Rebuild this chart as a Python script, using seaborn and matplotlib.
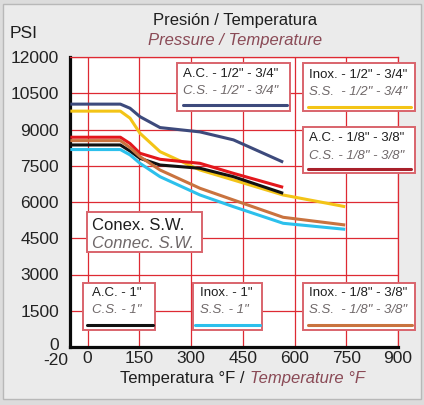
import pandas as pd
import matplotlib.pyplot as plt
import seaborn as sns
from matplotlib.patches import Rectangle
from matplotlib.lines import Line2D
from matplotlib.transforms import ScaledTranslation

# temperatures (°F)
temp_short = [-50, 95, 123, 152, 210, 326, 423, 567]
temp_long = [-50, 95, 123, 152, 210, 326, 423, 567, 747]

# pressure (PSI) per series
cs_12_34 = [10050, 10050, 9880, 9530, 9080, 8900, 8570, 7650]
ss_12_34 = [9760, 9760, 9470, 8843, 8083, 7324, 6910, 6290, 5806]
cs_18_38 = [8680, 8680, 8420, 8015, 7767, 7600, 7186, 6608]
cs_1 = [8360, 8360, 8110, 7807, 7531, 7395, 7047, 6360]
ss_18_38 = [8540, 8540, 8250, 7875, 7324, 6567, 6083, 5367, 5048]
ss_1 = [8170, 8170, 7950, 7600, 7047, 6290, 5806, 5119, 4870]

x_ticks = [0, 150, 300, 450, 600, 750, 900]
y_ticks = [0, 1500, 3000, 4500, 6000, 7500, 9000, 10500, 12000]

colors = {
    'cs_12_34': '#3d4a7c',
    'ss_12_34': '#f3c417',
    'cs_18_38': '#e3171c',
    'cs_1': '#111111',
    'ss_18_38': '#c9733f',
    'ss_1': '#2cc0ec',
}

W, H = 424, 405


def px(x, y):
    return x / W, 1 - y / H


def build_frame():
    parts = []
    for name, xs, ys in [('cs_12_34', temp_short, cs_12_34),
                         ('ss_12_34', temp_long, ss_12_34),
                         ('cs_18_38', temp_short, cs_18_38),
                         ('cs_1', temp_short, cs_1),
                         ('ss_18_38', temp_long, ss_18_38),
                         ('ss_1', temp_long, ss_1)]:
        parts.append(pd.DataFrame({'temp': xs, 'psi': ys, 'serie': name}))
    return pd.concat(parts, ignore_index=True)


def draw_box(fig, x0, y0, x1, y1, line1, line2, color=None, size=9.5, tx=None, ty=(None, None), sample=None):
    fx, fy = px(x0, y1)
    fig.patches.append(Rectangle((fx, fy), (x1 - x0) / W, (y1 - y0) / H, transform=fig.transFigure,
                                 facecolor='white', edgecolor='#d9646c', lw=1.4, zorder=5))
    fig.text(*px(tx, ty[0]), line1, fontsize=size, color='#1e1e1e', va='center', ha='left', zorder=6)
    fig.text(*px(tx, ty[1]), line2, fontsize=size, color='#6f6869', style='italic', va='center', ha='left', zorder=6)
    if color is not None:
        sx0, sx1, sy = sample
        fig.lines.append(Line2D([sx0 / W, sx1 / W], [1 - sy / H, 1 - sy / H], transform=fig.transFigure,
                                color=color, lw=2.2, zorder=6))


def main():
    sns.set_style('white')
    plt.rcParams['font.family'] = ['Liberation Sans', 'DejaVu Sans']

    fig = plt.figure(figsize=(W / 100, H / 100), dpi=100, facecolor='#dcdcdc')
    fig.patches.append(Rectangle(px(3, 399), 418 / W, 395 / H, transform=fig.transFigure,
                                 facecolor='#ebebeb', edgecolor='#b8b8b8', lw=1.0, zorder=-5))

    ax = fig.add_axes([70 / W, 1 - 347 / H, (398 - 70) / W, (347 - 57) / H])
    ax.set_zorder(1)
    ax.set_facecolor('white')

    df = build_frame()
    sns.lineplot(data=df, x='temp', y='psi', hue='serie', palette=colors, sort=False,
                 estimator=None, legend=False, linewidth=2.2, ax=ax, zorder=3)
    for ln in ax.lines:
        ln.set_solid_joinstyle('round')
        ln.set_solid_capstyle('butt')

    ax.set_xlim(-51, 900)
    ax.set_ylim(0, 12000)
    ax.set_xticks([-51] + x_ticks)
    ax.set_xticklabels(['-20'] + [str(t) for t in x_ticks])
    ax.set_yticks(y_ticks)
    ax.set_yticklabels([str(t) for t in y_ticks])
    ax.tick_params(axis='both', length=0, labelsize=12.5, labelcolor='#222222')
    ax.tick_params(axis='x', pad=3)
    ax.tick_params(axis='y', pad=8)

    first = ax.get_xticklabels()[0]
    first.set_ha('right')
    first.set_transform(first.get_transform() + ScaledTranslation(-2 / 100, -2 / 100, fig.dpi_scale_trans))
    zero = ax.get_yticklabels()[0]
    zero.set_transform(zero.get_transform() + ScaledTranslation(0, 3 / 100, fig.dpi_scale_trans))

    ax.grid(True, color='#de2a33', lw=0.9)
    ax.xaxis.get_major_ticks()[0].gridline.set_visible(False)
    ax.set_xlabel('')
    ax.set_ylabel('')
    for side in ['top', 'right']:
        ax.spines[side].set_color('#de2a33')
        ax.spines[side].set_linewidth(0.9)
    for side in ['left', 'bottom']:
        ax.spines[side].set_color('#0a0a0a')
        ax.spines[side].set_linewidth(2.3)

    # titles
    fig.text(*px(235, 20), 'Presión / Temperatura', fontsize=12, color='#1e1e1e', ha='center', va='center')
    fig.text(*px(235, 40), 'Pressure / Temperature', fontsize=12, color='#8a4a56', style='italic',
             ha='center', va='center')
    fig.text(*px(10, 34), 'PSI', fontsize=12.5, color='#1e1e1e', ha='left', va='center')
    fig.text(*px(244, 378), 'Temperatura °F /', fontsize=12, color='#1e1e1e', ha='right', va='center')
    fig.text(*px(250, 378), 'Temperature °F', fontsize=12, color='#8a4a56', style='italic',
             ha='left', va='center')

    # legend boxes
    draw_box(fig, 177, 63, 290, 111, 'A.C. - 1/2" - 3/4"', 'C.S. - 1/2" - 3/4"', colors['cs_12_34'],
             tx=183, ty=(74, 91), sample=(183, 287, 105))
    draw_box(fig, 303, 63, 415, 111, 'Inox. - 1/2" - 3/4"', 'S.S.  - 1/2" - 3/4"', colors['ss_12_34'],
             tx=309, ty=(75, 92), sample=(308, 411, 107))
    draw_box(fig, 303, 127, 415, 173, 'A.C. - 1/8" - 3/8"', 'C.S. - 1/8" - 3/8"', '#a8202a',
             tx=309, ty=(138, 156), sample=(308, 411, 169))
    draw_box(fig, 87, 212, 202, 252, 'Conex. S.W.', 'Connec. S.W.', None, size=12,
             tx=92, ty=(225, 243))
    draw_box(fig, 83, 283, 155, 330, 'A.C. - 1"', 'C.S. - 1"', colors['cs_1'],
             tx=92, ty=(293, 310), sample=(87, 153, 325))
    draw_box(fig, 193, 283, 262, 330, 'Inox. - 1"', 'S.S. - 1"', colors['ss_1'],
             tx=200, ty=(293, 310), sample=(195, 260, 325))
    draw_box(fig, 303, 283, 415, 330, 'Inox. - 1/8" - 3/8"', 'S.S.  - 1/8" - 3/8"', colors['ss_18_38'],
             tx=309, ty=(293, 310), sample=(308, 412, 325))

    plt.savefig('out.png', dpi=100, facecolor=fig.get_facecolor())


if __name__ == "__main__":
    main()
